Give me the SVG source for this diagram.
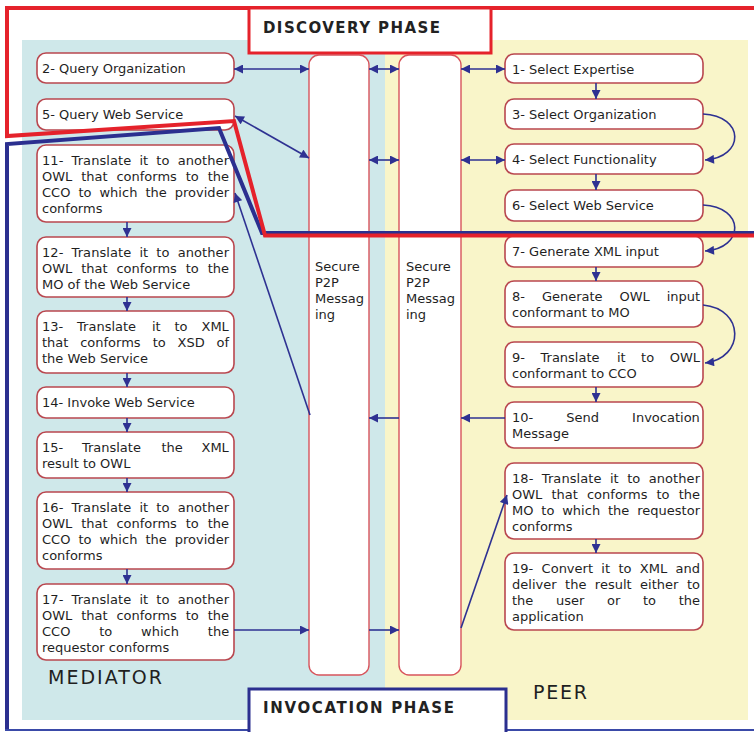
<svg xmlns="http://www.w3.org/2000/svg" width="754" height="732" viewBox="0 0 754 732">
  <style>
    .bg-med { fill: #cfe8ea; }
    .bg-peer { fill: #f9f5c9; }
    .box { fill: #ffffff; stroke: #b9474f; stroke-width: 1.6; }
    .col { fill: #ffffff; stroke: #d8545c; stroke-width: 1.4; }
    .t { font-family: "DejaVu Sans", Verdana, sans-serif; font-size: 13px; fill: #1f1f1f; }
    .phase { font-family: "DejaVu Sans", Verdana, sans-serif; font-size: 15px; font-weight: bold; fill: #222222; }
    .role { font-family: "DejaVu Sans", Verdana, sans-serif; font-size: 19px; fill: #1f1f1f; }
    .conn { fill: none; stroke: #2e3192; stroke-width: 1.6; }
    .frame-red { fill: none; stroke: #e5222b; stroke-width: 4; stroke-linejoin: miter; }
    .frame-blue { fill: none; stroke: #2b2f8f; stroke-width: 4; stroke-linejoin: miter; }
  </style>
  <defs>
    <marker id="ah" viewBox="0 0 10 10" refX="10" refY="5" markerWidth="10" markerHeight="9" markerUnits="userSpaceOnUse" orient="auto-start-reverse">
      <path d="M0,0 L10,5 L0,10 z" fill="#2e3192"/>
    </marker>
  </defs>

  <rect width="754" height="732" fill="#ffffff"/>

  <!-- swimlane backgrounds -->
  <g id="lanes">
    <rect class="bg-med" x="22" y="40" width="363" height="680"/>
    <rect class="bg-peer" x="385" y="40" width="363" height="680"/>
    <text class="role" x="48" y="684" textLength="114" lengthAdjust="spacing">MEDIATOR</text>
    <text class="role" x="533" y="699" textLength="54" lengthAdjust="spacing">PEER</text>
  </g>

  <!-- secure messaging columns -->
  <g id="p2p-mediator">
    <rect class="col" x="309" y="55" width="60" height="620" rx="10"/>
    <text class="t"><tspan x="315" y="271">Secure</tspan><tspan x="315" y="287">P2P</tspan><tspan x="315" y="303">Messag</tspan><tspan x="315" y="319">ing</tspan></text>
  </g>
  <g id="p2p-peer">
    <rect class="col" x="399" y="55" width="62" height="620" rx="10"/>
    <text class="t"><tspan x="406" y="271">Secure</tspan><tspan x="406" y="287">P2P</tspan><tspan x="406" y="303">Messag</tspan><tspan x="406" y="319">ing</tspan></text>
  </g>

  <!-- mediator steps -->
  <g id="step2">
    <rect class="box" x="37" y="53" width="197" height="30" rx="9"/>
    <text class="t" x="42" y="72.5">2- Query Organization</text>
  </g>
  <g id="step5">
    <rect class="box" x="37" y="99" width="197" height="31" rx="9"/>
    <text class="t" x="42" y="118.5">5- Query Web Service</text>
  </g>
  <g id="step11">
    <rect class="box" x="37" y="145" width="197" height="77" rx="9"/>
    <text class="t" x="42" y="164.5" word-spacing="3.9" textLength="187" lengthAdjust="spacing">11- Translate it to another</text>
    <text class="t" x="42" y="180.8" word-spacing="4.7" textLength="187" lengthAdjust="spacing">OWL that conforms to the</text>
    <text class="t" x="42" y="197.1" word-spacing="3.85" textLength="187" lengthAdjust="spacing">CCO to which the provider</text>
    <text class="t" x="42" y="213.4">conforms</text>
  </g>
  <g id="step12">
    <rect class="box" x="37" y="237" width="197" height="60" rx="9"/>
    <text class="t" x="42" y="256.5" word-spacing="3.9" textLength="187" lengthAdjust="spacing">12- Translate it to another</text>
    <text class="t" x="42" y="272.8" word-spacing="4.7" textLength="187" lengthAdjust="spacing">OWL that conforms to the</text>
    <text class="t" x="42" y="289.1">MO of the Web Service</text>
  </g>
  <g id="step13">
    <rect class="box" x="37" y="311" width="197" height="62" rx="9"/>
    <text class="t" y="330.5"><tspan x="42">13- </tspan><tspan x="77.1">Translate </tspan><tspan x="151.9">it </tspan><tspan x="174.5">to </tspan><tspan x="201.5">XML</tspan></text>
    <text class="t" y="346.8"><tspan x="42">that </tspan><tspan x="80.2">conforms </tspan><tspan x="152.7">to </tspan><tspan x="177.6">XSD </tspan><tspan x="216.6">of</tspan></text>
    <text class="t" x="42" y="363.1">the Web Service</text>
  </g>
  <g id="step14">
    <rect class="box" x="37" y="387" width="197" height="31" rx="9"/>
    <text class="t" x="42" y="406.5">14- Invoke Web Service</text>
  </g>
  <g id="step15">
    <rect class="box" x="37" y="432" width="197" height="46" rx="9"/>
    <text class="t" y="451.5"><tspan x="42">15- </tspan><tspan x="81.9">Translate </tspan><tspan x="161.5">the </tspan><tspan x="201.5">XML</tspan></text>
    <text class="t" x="42" y="467.8">result to OWL</text>
  </g>
  <g id="step16">
    <rect class="box" x="37" y="492" width="197" height="77" rx="9"/>
    <text class="t" x="42" y="511.5" word-spacing="3.9" textLength="187" lengthAdjust="spacing">16- Translate it to another</text>
    <text class="t" x="42" y="527.8" word-spacing="4.7" textLength="187" lengthAdjust="spacing">OWL that conforms to the</text>
    <text class="t" x="42" y="544.1" word-spacing="3.85" textLength="187" lengthAdjust="spacing">CCO to which the provider</text>
    <text class="t" x="42" y="560.4">conforms</text>
  </g>
  <g id="step17">
    <rect class="box" x="37" y="584" width="197" height="76" rx="9"/>
    <text class="t" x="42" y="603.5" word-spacing="3.9" textLength="187" lengthAdjust="spacing">17- Translate it to another</text>
    <text class="t" x="42" y="619.8" word-spacing="4.7" textLength="187" lengthAdjust="spacing">OWL that conforms to the</text>
    <text class="t" y="636.1"><tspan x="42">CCO </tspan><tspan x="99.2">to </tspan><tspan x="141.1">which </tspan><tspan x="207.8">the</tspan></text>
    <text class="t" x="42" y="652.4">requestor conforms</text>
  </g>

  <!-- peer steps -->
  <g id="step1">
    <rect class="box" x="505" y="54" width="198" height="29" rx="9"/>
    <text class="t" x="512" y="73.5">1- Select Expertise</text>
  </g>
  <g id="step3">
    <rect class="box" x="505" y="99" width="198" height="30" rx="9"/>
    <text class="t" x="512" y="118.5">3- Select Organization</text>
  </g>
  <g id="step4">
    <rect class="box" x="505" y="144" width="198" height="30" rx="9"/>
    <text class="t" x="512" y="163.5">4- Select Functionality</text>
  </g>
  <g id="step6">
    <rect class="box" x="505" y="190" width="198" height="31" rx="9"/>
    <text class="t" x="512" y="209.5">6- Select Web Service</text>
  </g>
  <g id="step7">
    <rect class="box" x="505" y="236" width="198" height="31" rx="9"/>
    <text class="t" x="512" y="255.5">7- Generate XML input</text>
  </g>
  <g id="step8">
    <rect class="box" x="505" y="281" width="198" height="46" rx="9"/>
    <text class="t" y="300.5"><tspan x="512">8- </tspan><tspan x="541.9">Generate </tspan><tspan x="619.5">OWL </tspan><tspan x="666.7">input</tspan></text>
    <text class="t" x="512" y="316.8">conformant to MO</text>
  </g>
  <g id="step9">
    <rect class="box" x="505" y="342" width="198" height="45" rx="9"/>
    <text class="t" y="361.5"><tspan x="512">9- </tspan><tspan x="540.5">Translate </tspan><tspan x="616.9">it </tspan><tspan x="641.1">to </tspan><tspan x="669.7">OWL</tspan></text>
    <text class="t" x="512" y="377.8">conformant to CCO</text>
  </g>
  <g id="step10">
    <rect class="box" x="505" y="402" width="198" height="46" rx="9"/>
    <text class="t" y="421.5"><tspan x="512">10- </tspan><tspan x="566.3">Send </tspan><tspan x="632.1">Invocation</tspan></text>
    <text class="t" x="512" y="437.8">Message</text>
  </g>
  <g id="step18">
    <rect class="box" x="505" y="463" width="198" height="76" rx="9"/>
    <text class="t" x="512" y="482.5" word-spacing="4.2" textLength="188" lengthAdjust="spacing">18- Translate it to another</text>
    <text class="t" x="512" y="498.8" word-spacing="4.9" textLength="188" lengthAdjust="spacing">OWL that conforms to the</text>
    <text class="t" x="512" y="515.1" word-spacing="3.7" textLength="188" lengthAdjust="spacing">MO to which the requestor</text>
    <text class="t" x="512" y="531.4">conforms</text>
  </g>
  <g id="step19">
    <rect class="box" x="505" y="553" width="198" height="77" rx="9"/>
    <text class="t" x="512" y="572.5" word-spacing="4.2" textLength="188" lengthAdjust="spacing">19- Convert it to XML and</text>
    <text class="t" x="512" y="588.8" word-spacing="4.3" textLength="188" lengthAdjust="spacing">deliver the result either to</text>
    <text class="t" y="605.1"><tspan x="512">the </tspan><tspan x="556">user </tspan><tspan x="607">or </tspan><tspan x="643">to </tspan><tspan x="678.7">the</tspan></text>
    <text class="t" x="512" y="621.4">application</text>
  </g>

  <!-- message flow -->
  <g id="connectors">
    <path class="conn" d="M234,69 H309" marker-start="url(#ah)" marker-end="url(#ah)"/>
    <path class="conn" d="M369,69 H399" marker-start="url(#ah)" marker-end="url(#ah)"/>
    <path class="conn" d="M461,69 H505" marker-start="url(#ah)" marker-end="url(#ah)"/>
    <path class="conn" d="M235,116 L309,158" marker-start="url(#ah)" marker-end="url(#ah)"/>
    <path class="conn" d="M369,160 H399" marker-start="url(#ah)" marker-end="url(#ah)"/>
    <path class="conn" d="M461,160 H505" marker-start="url(#ah)" marker-end="url(#ah)"/>

    <path class="conn" d="M596,83 V99" marker-end="url(#ah)"/>
    <path class="conn" d="M703,114 C745,116 745,157 705,160" marker-end="url(#ah)"/>
    <path class="conn" d="M596,174 V190" marker-end="url(#ah)"/>
    <path class="conn" d="M703,205 C745,207 745,248 705,251" marker-end="url(#ah)"/>
    <path class="conn" d="M596,267 V281" marker-end="url(#ah)"/>
    <path class="conn" d="M703,305 C745,309 745,358 705,363" marker-end="url(#ah)"/>
    <path class="conn" d="M596,387 V402" marker-end="url(#ah)"/>

    <path class="conn" d="M505,418 H461" marker-end="url(#ah)"/>
    <path class="conn" d="M399,418 H369" marker-end="url(#ah)"/>
    <path class="conn" d="M310,415 L235,193" marker-end="url(#ah)"/>

    <path class="conn" d="M127,222 V237" marker-end="url(#ah)"/>
    <path class="conn" d="M127,297 V311" marker-end="url(#ah)"/>
    <path class="conn" d="M127,373 V387" marker-end="url(#ah)"/>
    <path class="conn" d="M127,418 V432" marker-end="url(#ah)"/>
    <path class="conn" d="M127,478 V492" marker-end="url(#ah)"/>
    <path class="conn" d="M127,569 V584" marker-end="url(#ah)"/>

    <path class="conn" d="M234,630 H309" marker-end="url(#ah)"/>
    <path class="conn" d="M369,630 H399" marker-end="url(#ah)"/>
    <path class="conn" d="M461,628 L507,495" marker-end="url(#ah)"/>
    <path class="conn" d="M596,539 V553" marker-end="url(#ah)"/>
  </g>

  <!-- phase outlines -->
  <g id="invocation-phase">
    <path class="frame-blue" d="M756,233 H262 L219,128 L7,144 V731"/>
    <path d="M5,730 H754" stroke="#3a4aa8" stroke-width="2" fill="none"/>
    <rect x="249" y="689" width="257" height="48" fill="#ffffff" stroke="#2b2f8f" stroke-width="3"/>
    <text class="phase" x="263" y="713" textLength="191" lengthAdjust="spacing">INVOCATION PHASE</text>
  </g>
  <g id="discovery-phase">
    <path class="frame-red" d="M756,8 H7 V136 L234,121 L265,235.5 H756"/>
    <rect x="249" y="8" width="242" height="45" fill="#ffffff" stroke="#e5222b" stroke-width="3"/>
    <text class="phase" x="263" y="33" textLength="177" lengthAdjust="spacing">DISCOVERY PHASE</text>
  </g>
</svg>
